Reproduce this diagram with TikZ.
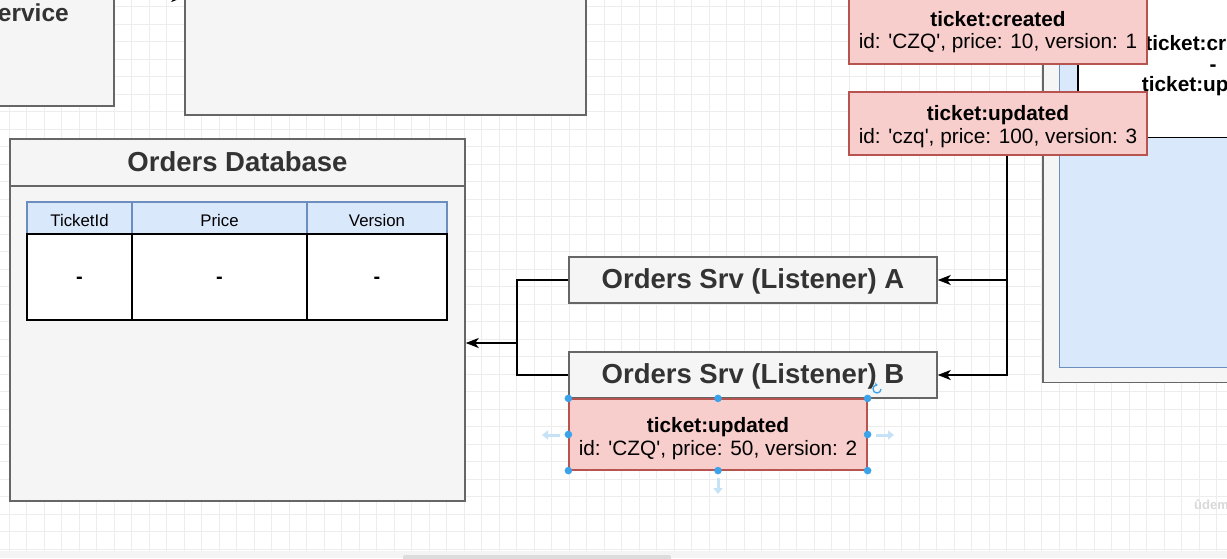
\documentclass[tikz,border=0pt]{standalone}
\usepackage{fontspec}
\setmainfont{Liberation Sans}
\usetikzlibrary{arrows.meta}
\definecolor{grayfill}{HTML}{F5F5F5}
\definecolor{graystroke}{HTML}{666666}
\definecolor{graytext}{HTML}{333333}
\definecolor{pinkfill}{HTML}{F8CECC}
\definecolor{pinkstroke}{HTML}{B85450}
\definecolor{bluefill}{HTML}{DAE8FC}
\definecolor{bluestroke}{HTML}{6C8EBF}
\definecolor{gridc}{HTML}{EDEDED}
\definecolor{handlec}{HTML}{3AA3EA}
\definecolor{handlelight}{HTML}{C6E2F7}
\definecolor{barc}{HTML}{F4F4F4}
\definecolor{thumbc}{HTML}{DCDCDC}
\newcommand{\sq}{\textquotesingle}
\tikzset{
  graybox/.style={draw=graystroke, fill=grayfill, line width=1.5pt},
  bigtitle/.style={font=\fontsize{27.5}{33}\selectfont\bfseries, text=graytext},
  srvbox/.style={graybox, minimum width=368pt, minimum height=46pt, inner sep=0pt},
  eventbox/.style={draw=pinkstroke, fill=pinkfill, line width=1.2pt, minimum width=298pt, inner sep=0pt},
  eventtext/.style={inner sep=0pt, align=center, font=\fontsize{20.8}{22.5}\selectfont},
  hdrcell/.style={draw=bluestroke, fill=bluefill, line width=1.5pt, inner sep=0pt},
  hdrtext/.style={inner sep=0pt, font=\fontsize{16.8}{20}\selectfont},
  datacell/.style={draw=black, fill=white, line width=1.5pt, inner sep=0pt},
  datatext/.style={inner sep=0pt, font=\fontsize{20}{24}\selectfont\bfseries},
  conn/.style={draw=black, line width=1.5pt},
  tip/.style={-{Stealth[length=13pt,width=10pt,inset=3.5pt]}},
  handledot/.style={fill=handlec, draw=none},
  handlearrow/.style={draw=handlelight, line width=3pt, -{Triangle[length=6pt,width=9pt]}}
}
\begin{document}
\begin{tikzpicture}[x=1pt,y=-1pt]
\useasboundingbox (0,0) rectangle (1227,558);
\clip (0,0) rectangle (1227,558);
% background and grid
\fill[white] (0,0) rectangle (1227,551);
\foreach \k in {0,...,70} \draw[gridc, line width=0.8pt] ({9.3+17.5*\k},0) -- ({9.3+17.5*\k},551);
\foreach \k in {0,...,31} \draw[gridc, line width=0.8pt] (0,{549.3-17.5*\k}) -- (1227,{549.3-17.5*\k});
\fill[barc] (0,551) rectangle (1227,558);
\fill[thumbc, rounded corners=2pt] (403,555) rectangle (671,561);

% top-left service box (cut off)
\node[graybox, minimum width=414pt, minimum height=206pt, inner sep=0pt] (svc) at (-93,3) {};
\node[anchor=east, inner sep=0pt, font=\fontsize{24.5}{28}\selectfont\bfseries, text=graytext] (svctext) at (69,13) {Service};
% top middle box (cut off)
\node[graybox, minimum width=401pt, minimum height=215pt, inner sep=0pt] (mid) at (385.5,7.5) {};
\coordinate (midin) at (160,-3);
\draw[conn, tip] (midin) -- (midin -| mid.west);

% right structure (cut off)
\node[graybox, minimum width=260pt, minimum height=420pt, inner sep=0pt, anchor=south west] (rg) at (1042,383) {};
\node[draw=bluestroke, fill=bluefill, line width=1pt, minimum width=240pt, minimum height=400pt, inner sep=0pt, anchor=south west] (rb) at (1059,368) {};
\node[draw=black, fill=white, line width=1.5pt, minimum width=220pt, minimum height=170pt, inner sep=0pt, anchor=south west] (rw) at (1077,138) {};
\node[align=center, inner sep=0pt, font=\fontsize{20.8}{20.5}\selectfont\bfseries] (rwtext) at (1213,66) {ticket:created\\-\\ticket:updated};

% event boxes
\node[eventbox, minimum height=67pt] (tc) at (998,30.5) {};
\node[eventtext] (tct) at (998,32) {\textbf{ticket:created}\\id: \sq CZQ\sq, price: 10, version: 1};
\node[eventbox, minimum height=63pt] (tu3) at (998,123.5) {};
\node[eventtext] (tu3t) at (998,126.5) {\textbf{ticket:updated}\\id: \sq czq\sq, price: 100, version: 3};

% listeners
\node[srvbox] (sa) at (753,280) {};
\node[bigtitle, inner sep=0pt] (sat) at (753,281) {Orders Srv (Listener) A};
\node[srvbox] (sb) at (753,375) {};
\node[bigtitle, inner sep=0pt] (sbt) at (753,376) {Orders Srv (Listener) B};

% selected event box
\node[eventbox, minimum height=71pt] (tu2) at (718,434.5) {};
\node[eventtext] (tu2t) at (718,438.5) {\textbf{ticket:updated}\\id: \sq CZQ\sq, price: 50, version: 2};
\foreach \a in {north west,north,north east,west,east,south west,south,south east}
  \fill[handledot] (tu2.\a) circle (3.8pt);
\coordinate (hl) at (560,435);
\coordinate (hr) at (876,435);
\coordinate (hb) at (718,478);
\draw[handlearrow] (hl) -- ++(-18,0);
\draw[handlearrow] (hr) -- ++(18,0);
\draw[handlearrow] (hb) -- ++(0,16);
\coordinate (rot) at (877,389);
\draw[handlec, line width=1.3pt, -{Stealth[length=3pt,width=4pt]}] (rot) ++(4,0) arc[start angle=0, end angle=-280, radius=4pt];

% orders database
\node[graybox, minimum width=455pt, minimum height=362pt, inner sep=0pt] (db) at (237.5,320) {};
\draw[draw=graystroke, line width=1.5pt] (db.west |- 0,186) -- (db.east |- 0,186);
\node[bigtitle, inner sep=0pt] (dbtitle) at (237.5,162) {Orders Database};
\node[hdrcell, minimum width=105pt, minimum height=32pt] (h1) at (79.5,218) {};
\node[hdrcell, minimum width=175pt, minimum height=32pt] (h2) at (219.5,218) {};
\node[hdrcell, minimum width=140pt, minimum height=32pt] (h3) at (377,218) {};
\node[hdrtext] (h1t) at (79.5,220) {TicketId};
\node[hdrtext] (h2t) at (219.5,220) {Price};
\node[hdrtext] (h3t) at (377,220) {Version};
\node[datacell, minimum width=105pt, minimum height=86pt] (d1) at (79.5,277) {};
\node[datacell, minimum width=175pt, minimum height=86pt] (d2) at (219.5,277) {};
\node[datacell, minimum width=140pt, minimum height=86pt] (d3) at (377,277) {};
\node[datatext] (d1t) at (79.5,280) {-};
\node[datatext] (d2t) at (219.5,280) {-};
\node[datatext] (d3t) at (377,280) {-};

% connectors
\coordinate (j) at (517,343);
\draw[conn, tip] (sa.west) -| (j) -- (j -| db.east);
\draw[conn] (sb.west) -| (j);
\coordinate (k) at (1007,375);
\draw[conn, tip] (tu3.south -| k) -- (k) -- (sb.east);
\draw[conn, tip] (k |- sa.east) -- (sa.east);

% watermark
\node[anchor=west, inner sep=0pt, text=black!15, font=\fontsize{13}{15}\selectfont\bfseries] (wm) at (1194,506) {ûdemy};
\end{tikzpicture}
\end{document}
